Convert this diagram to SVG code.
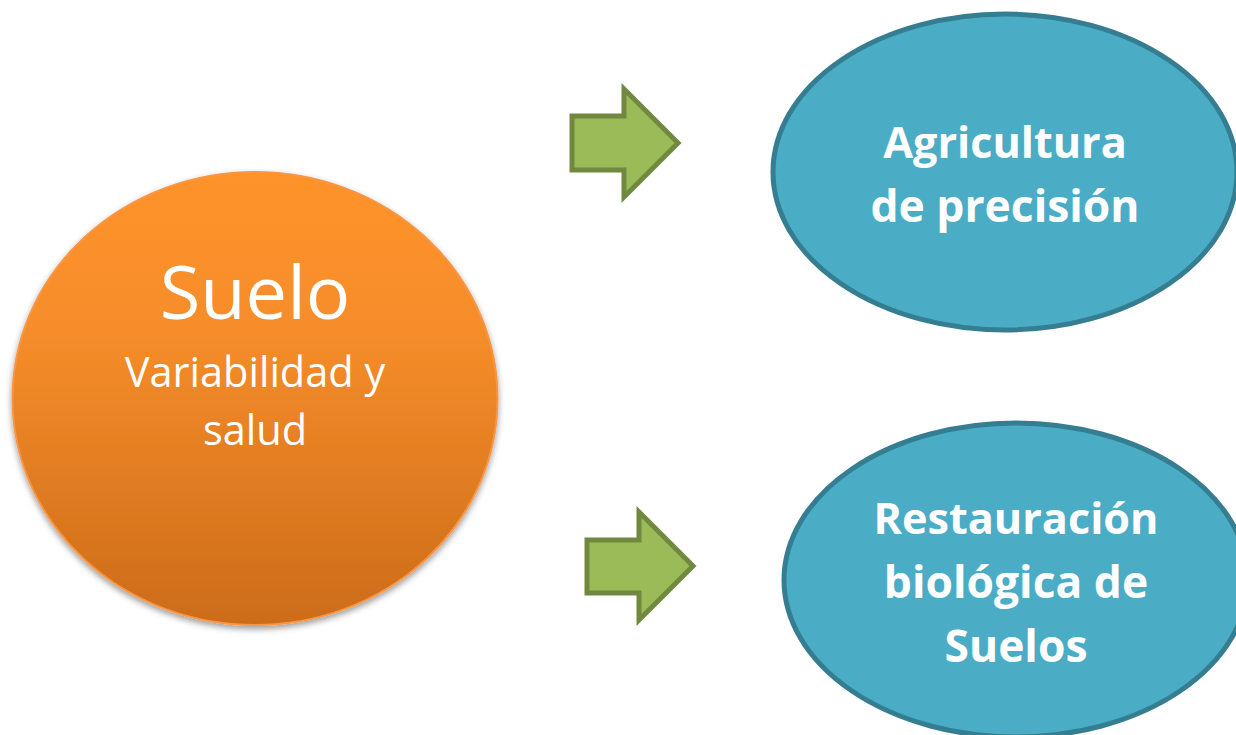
<svg xmlns="http://www.w3.org/2000/svg" width="1236" height="735" viewBox="0 0 1236 735">
<style>
text{font-family:"Open Sans","Noto Sans","Liberation Sans",sans-serif;text-anchor:middle;fill:#fff}
.b{font-weight:700;font-size:43.2px}
.c{font-weight:700;font-size:44.400px}
.e{fill:#4bacc6;stroke:#357d91;stroke-width:5}
.a{fill:#9bbb59;stroke:#71893f;stroke-width:5}
</style>
<defs>
<linearGradient id="o" x1="0" y1="0" x2="0" y2="1"><stop offset="0" stop-color="#ff9329"/><stop offset="0.35" stop-color="#f68d2a"/><stop offset="1" stop-color="#cc6c19"/></linearGradient>
<filter id="s" x="-10%" y="-10%" width="120%" height="120%"><feDropShadow dx="0" dy="3" stdDeviation="3" flood-color="#000" flood-opacity=".4"/></filter>
</defs>
<rect width="1236" height="735" fill="#fff"/>
<g id="suelo">
<ellipse cx="255" cy="398.500" rx="242.500" ry="226.500" fill="url(#o)" stroke="#f79646" stroke-width="2" filter="url(#s)"/>
<text x="255" y="319" font-size="74">Suelo</text>
<text x="255" y="387" font-size="41.500">Variabilidad y</text>
<text x="255" y="445" font-size="41.500">salud</text>
</g>
<g id="agricultura">
<ellipse class="e" cx="1005" cy="172" rx="232" ry="158"/>
<text class="b" x="1005" y="158">Agricultura</text>
<text class="c" x="1005" y="222">de precisión</text>
</g>
<g id="restauracion">
<ellipse class="e" cx="1016" cy="580" rx="232" ry="157"/>
<text class="b" x="1016" y="534">Restauración</text>
<text class="c" x="1016" y="598">biológica de</text>
<text class="c" x="1016" y="662">Suelos</text>
</g>
<g id="connectors">
<path class="a" d="M572 116H624V89L678 143L624 197V170H572Z"/>
<path class="a" d="M587 540H639V512L693 566L639 620V593H587Z"/>
</g>
</svg>
